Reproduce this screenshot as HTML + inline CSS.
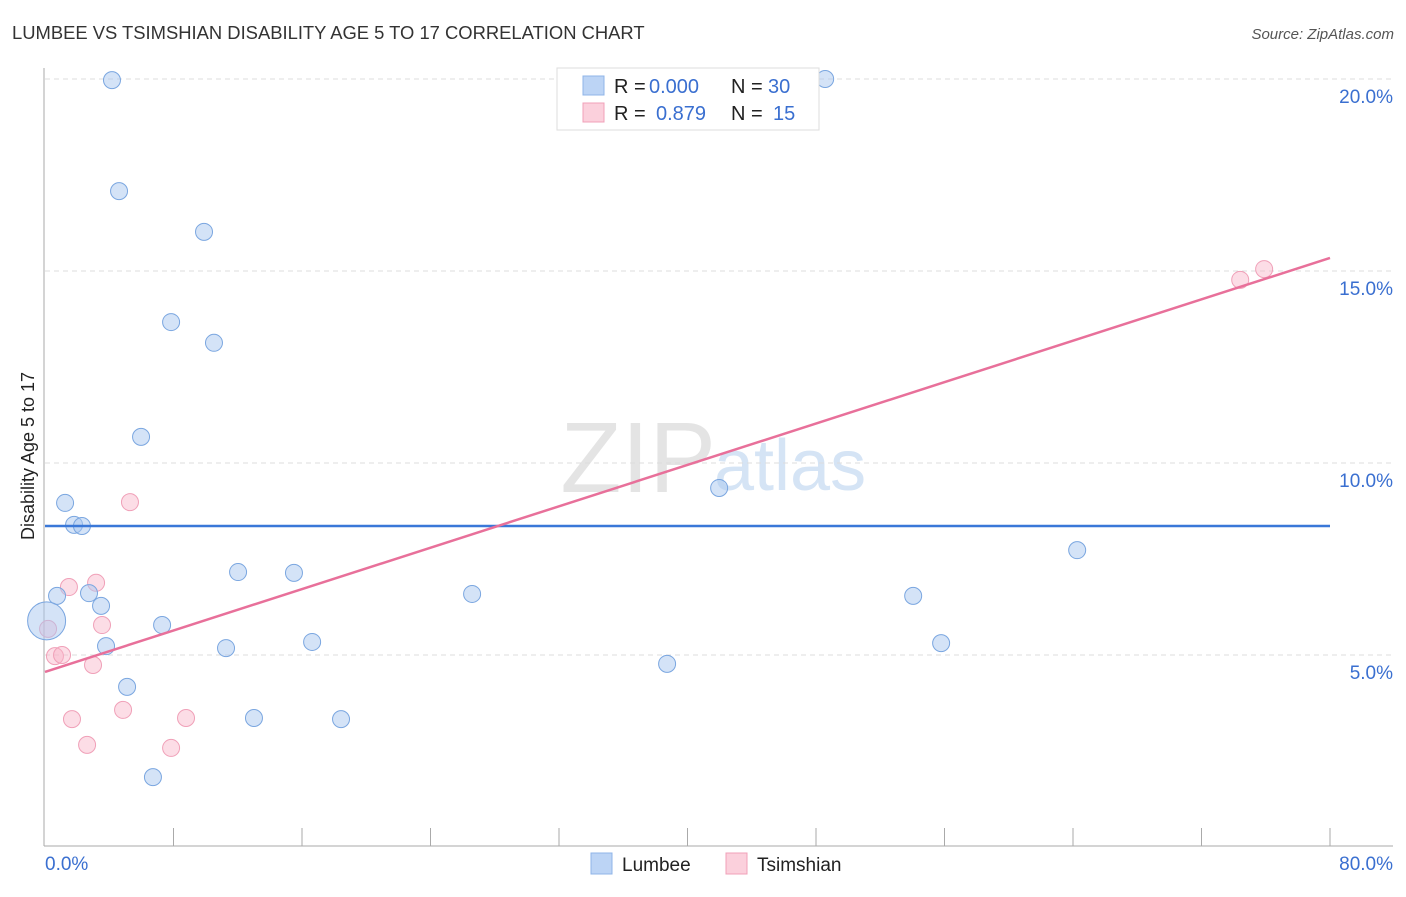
<!DOCTYPE html>
<html><head><meta charset="utf-8"><style>
body{margin:0;background:#fff;font-family:"Liberation Sans",sans-serif}
svg text{font-family:"Liberation Sans",sans-serif}
</style></head><body>
<svg width="1406" height="892">
<text x="12" y="39" font-size="18.4" fill="#333">LUMBEE VS TSIMSHIAN DISABILITY AGE 5 TO 17 CORRELATION CHART</text>
<text x="1394" y="39" font-size="15" fill="#555" font-style="italic" text-anchor="end">Source: ZipAtlas.com</text>
<text x="716" y="492" font-size="100" fill="#e4e4e4" text-anchor="end" font-family="Liberation Serif">ZIP</text>
<text x="714" y="490" font-size="72" fill="#d5e4f5">atlas</text>
<g id="grid"></g>
<g id="axes"></g>
<g id="marks"></g>
<text transform="translate(34,456) rotate(-90)" font-size="18" fill="#222" text-anchor="middle">Disability Age 5 to 17</text>
<g>
<rect x="557" y="68" width="262" height="62" fill="#fff" stroke="#ddd"/>
<rect x="583" y="76" width="21" height="19" fill="#bcd4f5" stroke="#8fb4e8"/>
<rect x="583" y="103" width="21" height="19" fill="#fbd0dc" stroke="#f0a0b8"/>
<text x="614" y="93" font-size="20" fill="#222">R =</text>
<text x="649" y="93" font-size="20" fill="#3a6fd0">0.000</text>
<text x="731" y="93" font-size="20" fill="#222">N =</text>
<text x="768" y="93" font-size="20" fill="#3a6fd0">30</text>
<text x="614" y="120" font-size="20" fill="#222">R =</text>
<text x="656" y="120" font-size="20" fill="#3a6fd0">0.879</text>
<text x="731" y="120" font-size="20" fill="#222">N =</text>
<text x="773" y="120" font-size="20" fill="#3a6fd0">15</text>
</g>
<g>
<rect x="591" y="853" width="21" height="21" fill="#bcd4f5" stroke="#8fb4e8"/>
<text x="622" y="871" font-size="19" fill="#222">Lumbee</text>
<rect x="726" y="853" width="21" height="21" fill="#fbd0dc" stroke="#f0a0b8"/>
<text x="757" y="871" font-size="19" fill="#222">Tsimshian</text>
</g>
</svg>
<script>
const xTicks=[0,80];
const yTicks=[5,10,15,20];
const blueX=[4.17,4.61,9.90,7.85,10.52,5.98,1.25,1.81,2.30,41.97,64.26,12.02,15.50,0.75,2.74,3.49,26.59,54.05,7.29,3.80,11.27,16.63,55.79,38.73,5.11,13.01,18.43,6.72,48.57];
const blueY=[19.97,17.08,16.02,13.67,13.13,10.68,8.96,8.39,8.36,9.35,7.73,7.16,7.14,6.54,6.61,6.28,6.59,6.54,5.78,5.23,5.18,5.34,5.31,4.77,4.17,3.36,3.33,1.82,20.0];
const bigX=[0.1], bigY=[5.89];
const pinkX=[5.29,1.49,3.18,3.55,0.19,0.62,1.06,2.99,1.68,4.86,8.78,2.62,7.85,74.41,75.90];
const pinkY=[8.98,6.77,6.88,5.78,5.68,4.97,5.0,4.74,3.33,3.57,3.36,2.66,2.58,14.77,15.05];
const blueTrend=[8.36,8.36];
const pinkTrend=[4.56,15.34];
const NS="http://www.w3.org/2000/svg";
const X=v=>45+v/80*1285, Y=v=>847-v*38.4;
function mk(p,t,a){const e=document.createElementNS(NS,t);for(const k in a)e.setAttribute(k,a[k]);document.getElementById(p).appendChild(e);return e;}
yTicks.forEach(v=>{
 const l=mk('grid','line',{x1:45,x2:1393,y1:Y(v),y2:Y(v),stroke:'#ddd','stroke-dasharray':'5,4'});
 
 
 const t=mk('grid','text',{x:1393,y:Y(v)+24,'font-size':19,fill:'#3a6fd0','text-anchor':'end'});t.textContent=v.toFixed(1)+'%';
 
 
});
mk('axes','line',{x1:44,x2:44,y1:68,y2:846,stroke:'#aaa'});
mk('axes','line',{x1:44,x2:1393,y1:846,y2:846,stroke:'#aaa'});
for(let i=1;i<=10;i++){const x=X(i*8);mk('axes','line',{x1:x,x2:x,y1:828,y2:846,stroke:'#aaa'});}
xTicks.forEach((v,i)=>{const t=mk('axes','text',{x:i?1393:45,y:870,'font-size':19,fill:'#3a6fd0','text-anchor':i?'end':'start'});t.textContent=v.toFixed(1)+'%';
 
 });
pinkX.forEach((v,i)=>{const c=mk('marks','circle',{cx:X(v),cy:Y(pinkY[i]),r:8.5,fill:'rgba(248,180,200,0.45)',stroke:'#f0a0b8'});
 
 });
blueX.forEach((v,i)=>{const c=mk('marks','circle',{cx:X(v),cy:Y(blueY[i]),r:8.5,fill:'rgba(170,200,240,0.5)',stroke:'#7aa6e0'});
 
 });
bigX.forEach((v,i)=>{const c=mk('marks','circle',{cx:X(v),cy:Y(bigY[i]),r:19,fill:'rgba(170,200,240,0.5)',stroke:'#7aa6e0'});
 
 });
const bl=mk('marks','line',{x1:X(0),x2:X(80),y1:Y(blueTrend[0]),y2:Y(blueTrend[1]),stroke:'#3a78d8','stroke-width':2.5});


const pl=mk('marks','line',{x1:X(0),x2:X(80),y1:Y(pinkTrend[0]),y2:Y(pinkTrend[1]),stroke:'#e8709a','stroke-width':2.5});


</script>
</body></html>
